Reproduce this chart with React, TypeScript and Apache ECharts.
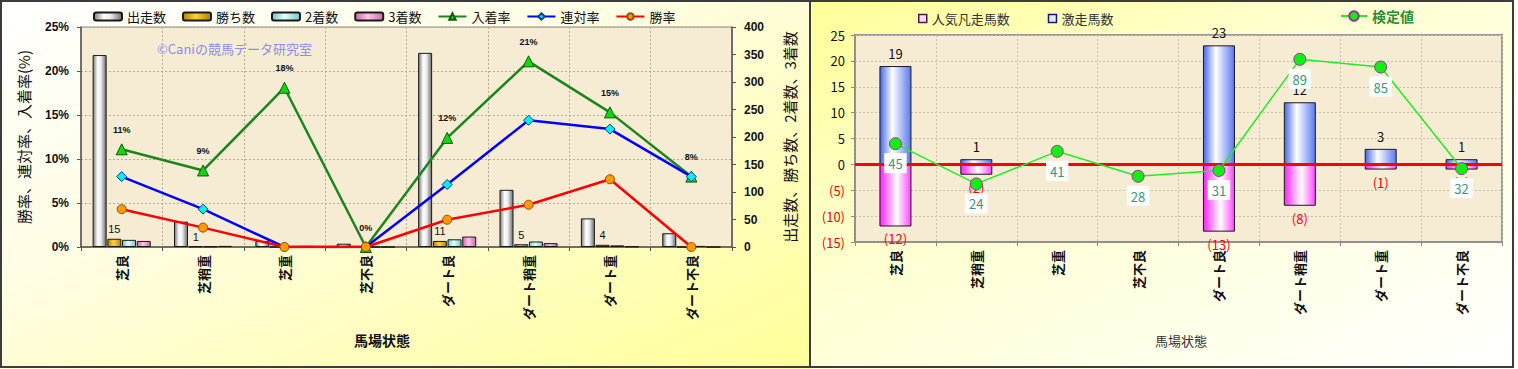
import React, { useEffect, useRef } from 'react';
import * as echarts from 'echarts';

const FONT = '"Noto Sans CJK JP", "Noto Sans", sans-serif';
const NUMFONT = '"Liberation Sans", Arial, sans-serif';

// ---- shared categories ----
const categories = ['芝良', '芝稍重', '芝重', '芝不良', 'ダート良', 'ダート稍重', 'ダート重', 'ダート不良'];

// ---- left chart data ----
const starts = [349, 46, 11, 6, 353, 104, 52, 25];
const wins = [15, 1, 0, 0, 11, 5, 4, 0];
const seconds = [13, 1, 0, 0, 14, 10, 3, 2];
const thirds = [11, 2, 2, 0, 19, 7, 1, 0];
const placeRate = [11.1, 8.7, 18.1, 0, 12.4, 21.1, 15.3, 8.0];
const quinellaRate = [8.0, 4.3, 0, 0, 7.1, 14.4, 13.4, 8.0];
const winRate = [4.3, 2.2, 0, 0, 3.1, 4.8, 7.7, 0];
const leftLegend = ['出走数', '勝ち数', '2着数', '3着数', '入着率', '連対率', '勝率'];

// ---- right chart data ----
const flopCounts = [-12, -2, 0, 0, -13, -8, -1, -1];
const surgeCounts = [19, 1, 0, 0, 23, 12, 3, 1];
const testValues = [45, 24, 41, 28, 31, 89, 85, 32];

const hGrad = (stops: [number, string][]) =>
  new echarts.graphic.LinearGradient(0, 0, 1, 0, stops.map(([offset, color]) => ({ offset, color })));

function leftOption(): any {
  const barBase = {
    type: 'bar',
    yAxisIndex: 1,
    barWidth: 14,
    barGap: '5%',
  };
  return {
    animation: false,
    backgroundColor: 'transparent',
    textStyle: { fontFamily: FONT },
    legend: {
      left: 88,
      top: 5,
      itemWidth: 28,
      itemHeight: 8,
      itemGap: 16,
      textStyle: { fontSize: 13, color: '#111', fontFamily: FONT },
      data: leftLegend,
    },
    grid: {
      left: 81,
      right: 79,
      top: 27,
      bottom: 122,
      show: true,
      backgroundColor: '#f6ebd3',
      borderColor: '#8a8a8a',
      borderWidth: 1,
    },
    xAxis: {
      type: 'category',
      data: categories,
      axisLine: { lineStyle: { color: '#555', width: 1.5 } },
      axisTick: { show: true, length: 4, lineStyle: { color: '#555' } },
      axisLabel: {
        rotate: 90,
        interval: 0,
        fontSize: 13,
        fontWeight: 'bold',
        color: '#111',
        margin: 8,
        fontFamily: FONT,
      },
      splitLine: { show: true, lineStyle: { color: '#b5ab97', type: [2, 2] } },
    },
    yAxis: [
      {
        type: 'value',
        min: 0,
        max: 25,
        interval: 5,
        position: 'left',
        axisLine: { show: true, lineStyle: { color: '#555', width: 1.5 } },
        axisTick: { show: true, length: 4, lineStyle: { color: '#555' } },
        axisLabel: {
          formatter: '{value}%',
          fontSize: 12,
          fontWeight: 'bold',
          color: '#111',
          fontFamily: NUMFONT,
          margin: 12,
        },
        splitLine: { show: true, lineStyle: { color: '#b5ab97', type: [2, 2] } },
        name: '勝率、連対率、入着率(%)',
        nameLocation: 'middle',
        nameRotate: 90,
        nameGap: 50,
        nameTextStyle: { fontSize: 15, color: '#111', fontFamily: FONT },
      },
      {
        type: 'value',
        min: 0,
        max: 400,
        interval: 50,
        position: 'right',
        axisLine: { show: true, lineStyle: { color: '#555', width: 1.5 } },
        axisTick: { show: true, length: 4, lineStyle: { color: '#555' } },
        axisLabel: {
          fontSize: 12,
          fontWeight: 'bold',
          color: '#111',
          fontFamily: NUMFONT,
          margin: 12,
        },
        splitLine: { show: false },
        name: '出走数、勝ち数、2着数、3着数',
        nameLocation: 'middle',
        nameRotate: 90,
        nameGap: 50,
        nameTextStyle: { fontSize: 15, color: '#111', fontFamily: FONT },
      },
    ],
    graphic: [
      {
        type: 'text',
        left: 157,
        top: 42,
        style: { text: '©Caniの競馬データ研究室', fill: '#8c8cf5', fontSize: 13, fontFamily: FONT },
      },
      {
        type: 'text',
        left: 354,
        top: 333,
        style: { text: '馬場状態', fill: '#111', fontSize: 14, fontWeight: 'bold', fontFamily: FONT },
      },
    ],
    series: [
      {
        ...barBase,
        name: '出走数',
        data: starts,
        itemStyle: {
          color: hGrad([[0, '#7a7a7a'], [0.35, '#ffffff'], [0.6, '#ececec'], [1, '#6c6c6c']]),
          borderColor: '#1a1a1a',
          borderWidth: 1,
        },
      },
      {
        ...barBase,
        name: '勝ち数',
        data: wins,
        itemStyle: {
          color: hGrad([[0, '#b08300'], [0.45, '#ffd23a'], [1, '#b08300']]),
          borderColor: '#1a1a1a',
          borderWidth: 1,
        },
        label: {
          show: true,
          position: 'top',
          distance: 4,
          fontSize: 11,
          color: '#111',
          fontFamily: NUMFONT,
          formatter: (p: any) => (p.value > 0 ? String(p.value) : ''),
        },
      },
      {
        ...barBase,
        name: '2着数',
        data: seconds,
        itemStyle: {
          color: hGrad([[0, '#78c4c4'], [0.45, '#e4ffff'], [1, '#78c4c4']]),
          borderColor: '#1a1a1a',
          borderWidth: 1,
        },
      },
      {
        ...barBase,
        name: '3着数',
        data: thirds,
        itemStyle: {
          color: hGrad([[0, '#cc6aac'], [0.45, '#ffc4e8'], [1, '#cc6aac']]),
          borderColor: '#1a1a1a',
          borderWidth: 1,
        },
      },
      {
        type: 'line',
        name: '入着率',
        yAxisIndex: 0,
        data: placeRate,
        symbol: 'triangle',
        symbolSize: 11,
        lineStyle: { color: '#1b861b', width: 2.5 },
        itemStyle: { color: '#12d812', borderColor: '#0e5a0e', borderWidth: 1 },
        label: {
          show: true,
          position: 'top',
          distance: 9,
          fontSize: 9,
          fontWeight: 'bold',
          color: '#111',
          fontFamily: NUMFONT,
          formatter: (p: any) => `${Math.round(p.value)}%`,
        },
        z: 4,
      },
      {
        type: 'line',
        name: '連対率',
        yAxisIndex: 0,
        data: quinellaRate,
        symbol: 'diamond',
        symbolSize: 10,
        lineStyle: { color: '#0000ff', width: 2.5 },
        itemStyle: { color: '#00f0f0', borderColor: '#0a3a9a', borderWidth: 1 },
        z: 4,
      },
      {
        type: 'line',
        name: '勝率',
        yAxisIndex: 0,
        data: winRate,
        symbol: 'circle',
        symbolSize: 9,
        lineStyle: { color: '#ff0000', width: 2.5 },
        itemStyle: { color: '#ff9a00', borderColor: '#9a4a00', borderWidth: 1 },
        z: 4,
      },
    ],
  };
}

function rightOption(): any {
  return {
    animation: false,
    backgroundColor: 'transparent',
    textStyle: { fontFamily: FONT },
    legend: [
      {
        left: 102,
        top: 7,
        itemWidth: 8,
        itemHeight: 8,
        itemGap: 38,
        icon: 'rect',
        textStyle: { fontSize: 13, color: '#333', fontFamily: FONT },
        data: [
          { name: '人気凡走馬数', itemStyle: { color: '#ffd6f4', borderColor: '#4a1a4a', borderWidth: 1.5 } },
          { name: '激走馬数', itemStyle: { color: '#dfe6ff', borderColor: '#1a1a6a', borderWidth: 1.5 } },
        ],
      },
      {
        left: 524,
        top: 4,
        itemWidth: 26,
        itemHeight: 12,
        textStyle: { fontSize: 14, color: '#2f8f2f', fontWeight: 'bold', fontFamily: FONT },
        data: ['検定値'],
      },
    ],
    grid: {
      left: 44,
      right: 12,
      top: 35,
      bottom: 127,
      show: true,
      backgroundColor: '#f6ebd3',
      borderColor: '#9a9a9a',
      borderWidth: 2,
    },
    xAxis: {
      type: 'category',
      data: categories,
      axisLine: { onZero: false, lineStyle: { color: '#8a8a8a', width: 1.5 } },
      axisTick: { show: true, length: 4, lineStyle: { color: '#8a8a8a' } },
      axisLabel: {
        rotate: 90,
        interval: 0,
        fontSize: 13,
        fontWeight: 'bold',
        color: '#111',
        margin: 8,
        fontFamily: FONT,
      },
      splitLine: { show: true, lineStyle: { color: '#c9c1b0', type: [2, 2] } },
    },
    yAxis: [
      {
        type: 'value',
        min: -15,
        max: 25,
        interval: 5,
        axisLine: { show: true, lineStyle: { color: '#8a8a8a', width: 1.5 } },
        axisTick: { show: true, length: 4, lineStyle: { color: '#8a8a8a' } },
        axisLabel: {
          fontSize: 13,
          color: '#111',
          fontFamily: FONT,
          margin: 10,
          formatter: (v: number) => (v < 0 ? `{n|(${-v})}` : `${v}`),
          rich: { n: { color: '#ff0000', fontSize: 13, fontFamily: FONT } },
        },
        splitLine: { show: true, lineStyle: { color: '#c9c1b0', type: [2, 2] } },
      },
      {
        type: 'value',
        min: -6.3,
        max: 101.7,
        show: false,
        splitLine: { show: false },
      },
    ],
    graphic: [
      {
        type: 'text',
        left: 344,
        top: 334,
        style: { text: '馬場状態', fill: '#333', fontSize: 13, fontFamily: FONT },
      },
    ],
    series: [
      {
        type: 'bar',
        name: '人気凡走馬数',
        stack: 'horses',
        barWidth: 32,
        data: flopCounts.map((v) => (v === 0 ? '-' : v)),
        itemStyle: {
          color: hGrad([[0, '#ff22ff'], [0.55, '#ffffff'], [1, '#ff44ff']]),
          borderColor: '#1a1a1a',
          borderWidth: 1,
        },
        label: {
          show: true,
          position: 'bottom',
          distance: 6,
          fontSize: 13,
          color: '#ff0000',
          fontFamily: FONT,
          formatter: (p: any) => `(${-p.value})`,
        },
        markLine: {
          silent: true,
          symbol: 'none',
          label: { show: false },
          lineStyle: { color: '#ff0000', width: 3, type: 'solid' },
          data: [{ yAxis: 0 }],
        },
      },
      {
        type: 'bar',
        name: '激走馬数',
        stack: 'horses',
        barWidth: 32,
        data: surgeCounts.map((v) => (v === 0 ? '-' : v)),
        itemStyle: {
          color: hGrad([[0, '#4466ee'], [0.4, '#ffffff'], [1, '#5a78f0']]),
          borderColor: '#1a1a1a',
          borderWidth: 1,
        },
        label: {
          show: true,
          position: 'top',
          distance: 6,
          fontSize: 13,
          color: '#111',
          fontFamily: FONT,
        },
      },
      {
        type: 'line',
        name: '検定値',
        yAxisIndex: 1,
        data: testValues,
        symbol: 'circle',
        symbolSize: 12,
        lineStyle: { color: '#22ee22', width: 1.5 },
        itemStyle: { color: '#11ee11', borderColor: '#993399', borderWidth: 1 },
        label: {
          show: true,
          position: 'bottom',
          distance: 3,
          fontSize: 13,
          color: '#339977',
          backgroundColor: '#ffffff',
          padding: [4, 4, 3, 4],
          fontFamily: FONT,
        },
        z: 6,
      },
    ],
  };
}

export default function App() {
  const leftRef = useRef<HTMLDivElement>(null);
  const rightRef = useRef<HTMLDivElement>(null);

  useEffect(() => {
    const l = echarts.init(leftRef.current!, undefined, { renderer: 'svg' });
    const r = echarts.init(rightRef.current!, undefined, { renderer: 'svg' });
    l.setOption(leftOption());
    r.setOption(rightOption());
    return () => {
      l.dispose();
      r.dispose();
    };
  }, []);

  return (
    <div style={{ position: 'fixed', left: 0, top: 0, width: 1518, height: 369, background: '#ffffff', overflow: 'hidden' }}>
      <div
        style={{
          position: 'absolute',
          left: 0,
          top: 0,
          width: 811,
          height: 369,
          background: 'linear-gradient(to bottom right, #ffffff 0%, #fffde2 40%, #ffff98 100%)',
        }}
      >
        <div ref={leftRef} style={{ width: 811, height: 369 }} />
      </div>
      <div
        style={{
          position: 'absolute',
          left: 811,
          top: 0,
          width: 703,
          height: 369,
          background: 'linear-gradient(to bottom right, #ffff98 0%, #ffffd2 40%, #ffffff 100%)',
        }}
      >
        <div ref={rightRef} style={{ width: 703, height: 369 }} />
      </div>
      <div
        style={{
          position: 'absolute',
          left: 0,
          top: 0,
          width: 811,
          height: 368,
          border: '2px solid #3c3c3c',
          boxSizing: 'border-box',
          pointerEvents: 'none',
        }}
      />
      <div
        style={{
          position: 'absolute',
          left: 809,
          top: 0,
          width: 705,
          height: 368,
          border: '2px solid #3c3c3c',
          boxSizing: 'border-box',
          pointerEvents: 'none',
        }}
      />
    </div>
  );
}
